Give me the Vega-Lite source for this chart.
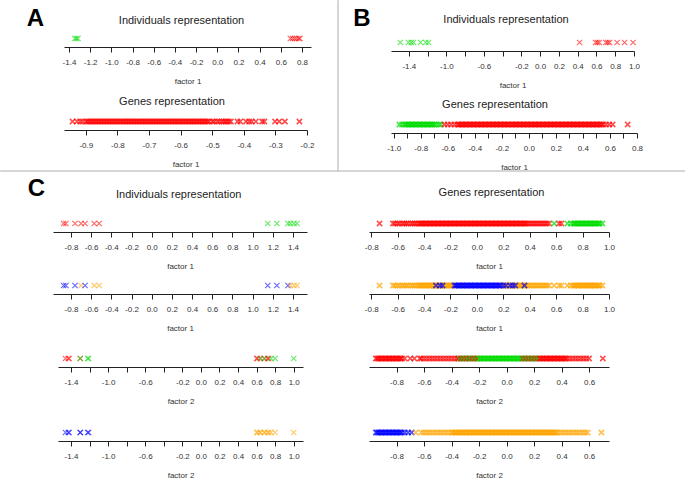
{
"$schema": "https://vega.github.io/schema/vega-lite/v6.json",
"padding": 0,
"background": "white",
"config": {
  "view": {"stroke": null},
  "font": "Liberation Sans",
  "concat": {"spacing": 0},
  "point": {"shape": "M-1,-1L1,1M-1,1L1,-1", "filled": false, "size": 28, "strokeWidth": 1.1, "opacity": 0.6},
  "axis": {"domainColor": "#222", "tickColor": "#222", "labelColor": "#333", "titleColor": "#333", "labelFontSize": 8, "titleFontSize": 8, "titleFontWeight": "normal", "labelFont": "Liberation Sans", "titleFont": "Liberation Sans", "tickSize": 5, "labelPadding": 6, "titlePadding": 11, "grid": false, "labelFlush": false, "labelOverlap": false, "domainWidth": 1, "tickWidth": 1},
  "title": {"fontSize": 11, "fontWeight": "normal", "color": "#222", "font": "Liberation Sans", "anchor": "middle", "frame": "group", "baseline": "alphabetic"}
},
"datasets": {
"AI": [{"x":-1.345,"c":"g"},{"x":-1.33,"c":"g"},{"x":-1.315,"c":"g"},{"x":0.69,"c":"r"},{"x":0.71,"c":"r"},{"x":0.73,"c":"r"},{"x":0.75,"c":"r"},{"x":0.77,"c":"r"},{"x":0.78,"c":"r"}],
"AG": [{"x":-0.942,"c":"r"},{"x":-0.928,"c":"r"},{"x":-0.918,"c":"r"},{"x":-0.91,"c":"r"},
{"x":-0.9,"c":"r"},{"x":-0.895,"c":"r"},{"x":-0.89,"c":"r"},{"x":-0.885,"c":"r"},{"x":-0.88,"c":"r"},{"x":-0.875,"c":"r"},{"x":-0.87,"c":"r"},{"x":-0.865,"c":"r"},{"x":-0.86,"c":"r"},{"x":-0.855,"c":"r"},{"x":-0.85,"c":"r"},{"x":-0.845,"c":"r"},{"x":-0.84,"c":"r"},{"x":-0.835,"c":"r"},{"x":-0.83,"c":"r"},{"x":-0.825,"c":"r"},{"x":-0.82,"c":"r"},{"x":-0.815,"c":"r"},{"x":-0.81,"c":"r"},{"x":-0.805,"c":"r"},{"x":-0.8,"c":"r"},{"x":-0.795,"c":"r"},{"x":-0.79,"c":"r"},{"x":-0.785,"c":"r"},{"x":-0.78,"c":"r"},{"x":-0.775,"c":"r"},{"x":-0.77,"c":"r"},{"x":-0.765,"c":"r"},{"x":-0.76,"c":"r"},{"x":-0.755,"c":"r"},{"x":-0.75,"c":"r"},{"x":-0.745,"c":"r"},{"x":-0.74,"c":"r"},{"x":-0.735,"c":"r"},{"x":-0.73,"c":"r"},{"x":-0.725,"c":"r"},{"x":-0.72,"c":"r"},{"x":-0.715,"c":"r"},{"x":-0.71,"c":"r"},{"x":-0.705,"c":"r"},{"x":-0.7,"c":"r"},{"x":-0.695,"c":"r"},{"x":-0.69,"c":"r"},{"x":-0.685,"c":"r"},{"x":-0.68,"c":"r"},{"x":-0.675,"c":"r"},{"x":-0.67,"c":"r"},{"x":-0.665,"c":"r"},{"x":-0.66,"c":"r"},{"x":-0.655,"c":"r"},{"x":-0.65,"c":"r"},{"x":-0.645,"c":"r"},{"x":-0.64,"c":"r"},{"x":-0.635,"c":"r"},{"x":-0.63,"c":"r"},{"x":-0.625,"c":"r"},{"x":-0.62,"c":"r"},{"x":-0.615,"c":"r"},{"x":-0.61,"c":"r"},{"x":-0.605,"c":"r"},{"x":-0.6,"c":"r"},{"x":-0.595,"c":"r"},{"x":-0.59,"c":"r"},{"x":-0.585,"c":"r"},{"x":-0.58,"c":"r"},{"x":-0.575,"c":"r"},{"x":-0.57,"c":"r"},{"x":-0.565,"c":"r"},{"x":-0.56,"c":"r"},{"x":-0.555,"c":"r"},{"x":-0.55,"c":"r"},{"x":-0.545,"c":"r"},{"x":-0.54,"c":"r"},{"x":-0.535,"c":"r"},{"x":-0.53,"c":"r"},{"x":-0.525,"c":"r"},{"x":-0.52,"c":"r"},{"x":-0.515,"c":"r"},{"x":-0.51,"c":"r"},
{"x":-0.5,"c":"r"},{"x":-0.494,"c":"r"},{"x":-0.485,"c":"r"},{"x":-0.478,"c":"r"},{"x":-0.47,"c":"r"},{"x":-0.464,"c":"r"},{"x":-0.458,"c":"r"},{"x":-0.453,"c":"r"},{"x":-0.447,"c":"r"},{"x":-0.441,"c":"r"},{"x":-0.42,"c":"r"},{"x":-0.411,"c":"r"},{"x":-0.393,"c":"r"},{"x":-0.383,"c":"r"},{"x":-0.375,"c":"r"},{"x":-0.362,"c":"r"},{"x":-0.342,"c":"r"},{"x":-0.335,"c":"r"},{"x":-0.301,"c":"r"},{"x":-0.288,"c":"r"},{"x":-0.27,"c":"r"},{"x":-0.224,"c":"r"}],
"BI": [{"x":-1.49,"c":"g"},{"x":-1.405,"c":"g"},{"x":-1.375,"c":"g"},{"x":-1.35,"c":"g"},{"x":-1.275,"c":"g"},{"x":-1.22,"c":"g"},{"x":-1.19,"c":"g"},{"x":0.42,"c":"r"},{"x":0.59,"c":"r"},{"x":0.61,"c":"r"},{"x":0.63,"c":"r"},{"x":0.7,"c":"r"},{"x":0.72,"c":"r"},{"x":0.74,"c":"r"},{"x":0.82,"c":"r"},{"x":0.9,"c":"r"},{"x":0.99,"c":"r"}],
"BG": [{"x":-0.958,"c":"g"},{"x":-0.938,"c":"g"},
{"x":-0.92,"c":"g"},{"x":-0.91,"c":"g"},{"x":-0.9,"c":"g"},{"x":-0.89,"c":"g"},{"x":-0.88,"c":"g"},{"x":-0.87,"c":"g"},{"x":-0.86,"c":"g"},{"x":-0.85,"c":"g"},{"x":-0.84,"c":"g"},{"x":-0.83,"c":"g"},{"x":-0.82,"c":"g"},{"x":-0.81,"c":"g"},{"x":-0.8,"c":"g"},{"x":-0.79,"c":"g"},{"x":-0.78,"c":"g"},{"x":-0.77,"c":"g"},{"x":-0.76,"c":"g"},{"x":-0.75,"c":"g"},{"x":-0.74,"c":"g"},{"x":-0.73,"c":"g"},{"x":-0.72,"c":"g"},{"x":-0.71,"c":"g"},
{"x":-0.7,"c":"g"},{"x":-0.685,"c":"g"},{"x":-0.665,"c":"g"},{"x":-0.65,"c":"g"},
{"x":-0.625,"c":"r"},{"x":-0.6,"c":"r"},{"x":-0.576,"c":"r"},{"x":-0.551,"c":"r"},
{"x":-0.53,"c":"r"},{"x":-0.52,"c":"r"},{"x":-0.51,"c":"r"},{"x":-0.5,"c":"r"},{"x":-0.49,"c":"r"},{"x":-0.48,"c":"r"},{"x":-0.47,"c":"r"},{"x":-0.46,"c":"r"},{"x":-0.45,"c":"r"},{"x":-0.44,"c":"r"},{"x":-0.43,"c":"r"},{"x":-0.42,"c":"r"},{"x":-0.41,"c":"r"},{"x":-0.4,"c":"r"},{"x":-0.39,"c":"r"},{"x":-0.38,"c":"r"},{"x":-0.37,"c":"r"},{"x":-0.36,"c":"r"},{"x":-0.35,"c":"r"},{"x":-0.34,"c":"r"},{"x":-0.33,"c":"r"},{"x":-0.32,"c":"r"},{"x":-0.31,"c":"r"},{"x":-0.3,"c":"r"},{"x":-0.29,"c":"r"},{"x":-0.28,"c":"r"},{"x":-0.27,"c":"r"},{"x":-0.26,"c":"r"},{"x":-0.25,"c":"r"},{"x":-0.24,"c":"r"},{"x":-0.23,"c":"r"},{"x":-0.22,"c":"r"},{"x":-0.21,"c":"r"},{"x":-0.2,"c":"r"},{"x":-0.19,"c":"r"},{"x":-0.18,"c":"r"},{"x":-0.17,"c":"r"},{"x":-0.16,"c":"r"},{"x":-0.15,"c":"r"},{"x":-0.14,"c":"r"},{"x":-0.13,"c":"r"},{"x":-0.12,"c":"r"},{"x":-0.11,"c":"r"},{"x":-0.1,"c":"r"},{"x":-0.09,"c":"r"},{"x":-0.08,"c":"r"},{"x":-0.07,"c":"r"},{"x":-0.06,"c":"r"},{"x":-0.05,"c":"r"},{"x":-0.04,"c":"r"},{"x":-0.03,"c":"r"},{"x":-0.02,"c":"r"},{"x":-0.01,"c":"r"},{"x":0,"c":"r"},{"x":0.01,"c":"r"},{"x":0.02,"c":"r"},{"x":0.03,"c":"r"},{"x":0.04,"c":"r"},{"x":0.05,"c":"r"},{"x":0.06,"c":"r"},{"x":0.07,"c":"r"},{"x":0.08,"c":"r"},{"x":0.09,"c":"r"},{"x":0.1,"c":"r"},{"x":0.11,"c":"r"},{"x":0.12,"c":"r"},{"x":0.13,"c":"r"},{"x":0.14,"c":"r"},{"x":0.15,"c":"r"},{"x":0.16,"c":"r"},{"x":0.17,"c":"r"},{"x":0.18,"c":"r"},{"x":0.19,"c":"r"},{"x":0.2,"c":"r"},{"x":0.21,"c":"r"},{"x":0.22,"c":"r"},{"x":0.23,"c":"r"},{"x":0.24,"c":"r"},{"x":0.25,"c":"r"},{"x":0.26,"c":"r"},{"x":0.27,"c":"r"},{"x":0.28,"c":"r"},{"x":0.29,"c":"r"},{"x":0.3,"c":"r"},{"x":0.31,"c":"r"},{"x":0.32,"c":"r"},{"x":0.33,"c":"r"},{"x":0.34,"c":"r"},{"x":0.35,"c":"r"},{"x":0.36,"c":"r"},{"x":0.37,"c":"r"},{"x":0.38,"c":"r"},{"x":0.39,"c":"r"},{"x":0.4,"c":"r"},{"x":0.41,"c":"r"},{"x":0.42,"c":"r"},{"x":0.43,"c":"r"},{"x":0.44,"c":"r"},{"x":0.45,"c":"r"},{"x":0.46,"c":"r"},{"x":0.47,"c":"r"},{"x":0.48,"c":"r"},{"x":0.49,"c":"r"},{"x":0.5,"c":"r"},{"x":0.51,"c":"r"},{"x":0.52,"c":"r"},{"x":0.53,"c":"r"},{"x":0.54,"c":"r"},{"x":0.55,"c":"r"},
{"x":0.571,"c":"r"},{"x":0.595,"c":"r"},{"x":0.62,"c":"r"},{"x":0.731,"c":"r"}],
"C1L": [{"x":-0.873,"c":"r"},{"x":-0.85,"c":"r"},{"x":-0.76,"c":"r"},{"x":-0.7,"c":"r"},{"x":-0.66,"c":"r"},{"x":-0.57,"c":"r"},{"x":-0.52,"c":"r"},{"x":1.15,"c":"g"},{"x":1.24,"c":"g"},{"x":1.35,"c":"g"},{"x":1.375,"c":"g"},{"x":1.41,"c":"g"},{"x":1.44,"c":"g"}],
"C2L": [{"x":-0.873,"c":"b"},{"x":-0.85,"c":"b"},{"x":-0.76,"c":"b"},{"x":-0.7,"c":"o"},{"x":-0.66,"c":"b"},{"x":-0.57,"c":"o"},{"x":-0.52,"c":"o"},{"x":1.15,"c":"b"},{"x":1.24,"c":"b"},{"x":1.35,"c":"b"},{"x":1.375,"c":"o"},{"x":1.41,"c":"o"},{"x":1.44,"c":"o"}],
"C3L": [{"x":-1.46,"c":"r"},{"x":-1.43,"c":"r"},{"x":-1.42,"c":"r"},{"x":-1.3,"c":"r"},{"x":-1.3,"c":"g"},{"x":-1.22,"c":"g"},{"x":-1.21,"c":"g"},{"x":0.6,"c":"r"},{"x":0.61,"c":"r"},{"x":0.64,"c":"r"},{"x":0.64,"c":"g"},{"x":0.68,"c":"r"},{"x":0.69,"c":"g"},{"x":0.72,"c":"r"},{"x":0.73,"c":"r"},{"x":0.755,"c":"g"},{"x":0.8,"c":"g"},{"x":1.0,"c":"g"}],
"C4L": [{"x":-1.46,"c":"b"},{"x":-1.43,"c":"b"},{"x":-1.42,"c":"b"},{"x":-1.3,"c":"b"},{"x":-1.3,"c":"b"},{"x":-1.22,"c":"b"},{"x":-1.21,"c":"b"},{"x":0.6,"c":"o"},{"x":0.61,"c":"o"},{"x":0.64,"c":"o"},{"x":0.64,"c":"o"},{"x":0.68,"c":"o"},{"x":0.69,"c":"o"},{"x":0.72,"c":"o"},{"x":0.73,"c":"o"},{"x":0.755,"c":"o"},{"x":0.8,"c":"o"},{"x":1.0,"c":"o"}],
"C1R": [{"x":-0.737,"c":"r"},{"x":-0.636,"c":"r"},{"x":-0.62,"c":"r"},{"x":-0.6,"c":"r"},{"x":-0.585,"c":"r"},{"x":-0.565,"c":"r"},{"x":-0.55,"c":"r"},{"x":-0.535,"c":"r"},{"x":-0.52,"c":"r"},{"x":-0.5,"c":"r"},{"x":-0.485,"c":"r"},{"x":-0.47,"c":"r"},{"x":-0.455,"c":"r"},{"x":-0.44,"c":"r"},
{"x":-0.43,"c":"r"},{"x":-0.42,"c":"r"},{"x":-0.41,"c":"r"},{"x":-0.4,"c":"r"},{"x":-0.39,"c":"r"},{"x":-0.38,"c":"r"},{"x":-0.37,"c":"r"},{"x":-0.36,"c":"r"},{"x":-0.35,"c":"r"},{"x":-0.34,"c":"r"},{"x":-0.33,"c":"r"},{"x":-0.32,"c":"r"},{"x":-0.31,"c":"r"},{"x":-0.3,"c":"r"},{"x":-0.29,"c":"r"},{"x":-0.28,"c":"r"},{"x":-0.27,"c":"r"},{"x":-0.26,"c":"r"},{"x":-0.25,"c":"r"},{"x":-0.24,"c":"r"},{"x":-0.23,"c":"r"},{"x":-0.22,"c":"r"},{"x":-0.21,"c":"r"},{"x":-0.2,"c":"r"},{"x":-0.19,"c":"r"},{"x":-0.18,"c":"r"},{"x":-0.17,"c":"r"},{"x":-0.16,"c":"r"},{"x":-0.15,"c":"r"},{"x":-0.14,"c":"r"},{"x":-0.13,"c":"r"},{"x":-0.12,"c":"r"},{"x":-0.11,"c":"r"},{"x":-0.1,"c":"r"},{"x":-0.09,"c":"r"},{"x":-0.08,"c":"r"},{"x":-0.07,"c":"r"},{"x":-0.06,"c":"r"},{"x":-0.05,"c":"r"},{"x":-0.04,"c":"r"},{"x":-0.03,"c":"r"},{"x":-0.02,"c":"r"},{"x":-0.01,"c":"r"},{"x":0,"c":"r"},{"x":0.01,"c":"r"},{"x":0.02,"c":"r"},{"x":0.03,"c":"r"},{"x":0.04,"c":"r"},{"x":0.05,"c":"r"},{"x":0.06,"c":"r"},{"x":0.07,"c":"r"},{"x":0.08,"c":"r"},{"x":0.09,"c":"r"},{"x":0.1,"c":"r"},{"x":0.11,"c":"r"},{"x":0.12,"c":"r"},{"x":0.13,"c":"r"},{"x":0.14,"c":"r"},{"x":0.15,"c":"r"},{"x":0.16,"c":"r"},{"x":0.17,"c":"r"},{"x":0.18,"c":"r"},{"x":0.19,"c":"r"},{"x":0.2,"c":"r"},{"x":0.21,"c":"r"},{"x":0.22,"c":"r"},{"x":0.23,"c":"r"},{"x":0.24,"c":"r"},{"x":0.25,"c":"r"},{"x":0.26,"c":"r"},{"x":0.27,"c":"r"},{"x":0.28,"c":"r"},{"x":0.29,"c":"r"},{"x":0.3,"c":"r"},{"x":0.31,"c":"r"},{"x":0.32,"c":"r"},{"x":0.33,"c":"r"},{"x":0.34,"c":"r"},{"x":0.35,"c":"r"},{"x":0.36,"c":"r"},{"x":0.37,"c":"r"},{"x":0.38,"c":"r"},
{"x":0.395,"c":"r"},{"x":0.41,"c":"r"},{"x":0.425,"c":"r"},{"x":0.44,"c":"r"},{"x":0.455,"c":"r"},{"x":0.47,"c":"r"},{"x":0.485,"c":"r"},{"x":0.5,"c":"r"},{"x":0.515,"c":"r"},{"x":0.53,"c":"r"},{"x":0.547,"c":"r"},
{"x":0.585,"c":"g"},{"x":0.622,"c":"r"},{"x":0.64,"c":"r"},{"x":0.685,"c":"g"},{"x":0.711,"c":"g"},
{"x":0.73,"c":"g"},{"x":0.74,"c":"g"},{"x":0.75,"c":"g"},{"x":0.76,"c":"g"},{"x":0.77,"c":"g"},{"x":0.78,"c":"g"},{"x":0.79,"c":"g"},{"x":0.8,"c":"g"},{"x":0.81,"c":"g"},{"x":0.82,"c":"g"},{"x":0.83,"c":"g"},{"x":0.84,"c":"g"},{"x":0.85,"c":"g"},{"x":0.86,"c":"g"},{"x":0.87,"c":"g"},{"x":0.88,"c":"g"},{"x":0.89,"c":"g"},{"x":0.9,"c":"g"},{"x":0.91,"c":"g"},{"x":0.92,"c":"g"},{"x":0.93,"c":"g"},{"x":0.95,"c":"g"}],
"C2R": [{"x":-0.737,"c":"o"},{"x":-0.636,"c":"o"},{"x":-0.62,"c":"o"},{"x":-0.6,"c":"o"},{"x":-0.585,"c":"o"},{"x":-0.565,"c":"o"},{"x":-0.55,"c":"o"},{"x":-0.535,"c":"o"},{"x":-0.52,"c":"o"},{"x":-0.5,"c":"o"},{"x":-0.485,"c":"o"},{"x":-0.47,"c":"o"},{"x":-0.455,"c":"o"},{"x":-0.44,"c":"o"},
{"x":-0.43,"c":"o"},{"x":-0.42,"c":"o"},{"x":-0.41,"c":"o"},{"x":-0.4,"c":"o"},{"x":-0.39,"c":"o"},{"x":-0.38,"c":"o"},{"x":-0.37,"c":"o"},{"x":-0.36,"c":"o"},{"x":-0.35,"c":"o"},{"x":-0.34,"c":"o"},{"x":-0.33,"c":"o"},{"x":-0.32,"c":"o"},{"x":-0.31,"c":"o"},{"x":-0.3,"c":"o"},{"x":-0.29,"c":"o"},{"x":-0.28,"c":"o"},{"x":-0.27,"c":"o"},{"x":-0.26,"c":"o"},{"x":-0.25,"c":"o"},{"x":-0.24,"c":"o"},{"x":-0.23,"c":"o"},{"x":-0.22,"c":"o"},{"x":-0.21,"c":"o"},{"x":-0.2,"c":"o"},{"x":-0.19,"c":"o"},{"x":-0.18,"c":"o"},
{"x":0.19,"c":"o"},{"x":0.2,"c":"o"},{"x":0.21,"c":"o"},{"x":0.22,"c":"o"},{"x":0.23,"c":"o"},{"x":0.24,"c":"o"},{"x":0.25,"c":"o"},{"x":0.26,"c":"o"},{"x":0.27,"c":"o"},{"x":0.28,"c":"o"},{"x":0.29,"c":"o"},{"x":0.3,"c":"o"},{"x":0.31,"c":"o"},{"x":0.32,"c":"o"},{"x":0.33,"c":"o"},{"x":0.34,"c":"o"},{"x":0.35,"c":"o"},{"x":0.36,"c":"o"},{"x":0.37,"c":"o"},{"x":0.38,"c":"o"},
{"x":0.395,"c":"o"},{"x":0.41,"c":"o"},{"x":0.425,"c":"o"},{"x":0.44,"c":"o"},{"x":0.455,"c":"o"},{"x":0.47,"c":"o"},{"x":0.485,"c":"o"},{"x":0.5,"c":"o"},{"x":0.515,"c":"o"},{"x":0.53,"c":"o"},{"x":0.547,"c":"o"},
{"x":0.585,"c":"o"},{"x":0.622,"c":"o"},{"x":0.64,"c":"o"},{"x":0.685,"c":"o"},{"x":0.711,"c":"o"},
{"x":0.73,"c":"o"},{"x":0.74,"c":"o"},{"x":0.75,"c":"o"},{"x":0.76,"c":"o"},{"x":0.77,"c":"o"},{"x":0.78,"c":"o"},{"x":0.79,"c":"o"},{"x":0.8,"c":"o"},{"x":0.81,"c":"o"},{"x":0.82,"c":"o"},{"x":0.83,"c":"o"},{"x":0.84,"c":"o"},{"x":0.85,"c":"o"},{"x":0.86,"c":"o"},{"x":0.87,"c":"o"},{"x":0.88,"c":"o"},{"x":0.89,"c":"o"},{"x":0.9,"c":"o"},{"x":0.91,"c":"o"},{"x":0.92,"c":"o"},{"x":0.93,"c":"o"},{"x":0.95,"c":"o"},
{"x":-0.31,"c":"b"},{"x":-0.28,"c":"b"},{"x":-0.26,"c":"b"},
{"x":-0.17,"c":"b"},{"x":-0.16,"c":"b"},{"x":-0.15,"c":"b"},{"x":-0.14,"c":"b"},{"x":-0.13,"c":"b"},{"x":-0.12,"c":"b"},{"x":-0.11,"c":"b"},{"x":-0.1,"c":"b"},{"x":-0.09,"c":"b"},{"x":-0.08,"c":"b"},{"x":-0.07,"c":"b"},{"x":-0.06,"c":"b"},{"x":-0.05,"c":"b"},{"x":-0.04,"c":"b"},{"x":-0.03,"c":"b"},{"x":-0.02,"c":"b"},{"x":-0.01,"c":"b"},{"x":0,"c":"b"},{"x":0.01,"c":"b"},{"x":0.02,"c":"b"},{"x":0.03,"c":"b"},{"x":0.04,"c":"b"},{"x":0.05,"c":"b"},{"x":0.06,"c":"b"},{"x":0.07,"c":"b"},{"x":0.08,"c":"b"},{"x":0.09,"c":"b"},{"x":0.1,"c":"b"},{"x":0.11,"c":"b"},{"x":0.12,"c":"b"},{"x":0.13,"c":"b"},{"x":0.14,"c":"b"},{"x":0.15,"c":"b"},{"x":0.16,"c":"b"},{"x":0.17,"c":"b"},{"x":0.18,"c":"b"},
{"x":0.2,"c":"b"},{"x":0.22,"c":"b"},{"x":0.25,"c":"b"},{"x":0.27,"c":"b"},{"x":0.29,"c":"b"},{"x":0.36,"c":"b"}],
"C3R": [{"x":-0.95,"c":"r"},{"x":-0.94,"c":"r"},{"x":-0.93,"c":"r"},{"x":-0.92,"c":"r"},{"x":-0.91,"c":"r"},{"x":-0.9,"c":"r"},{"x":-0.89,"c":"r"},{"x":-0.88,"c":"r"},{"x":-0.87,"c":"r"},{"x":-0.86,"c":"r"},{"x":-0.85,"c":"r"},{"x":-0.84,"c":"r"},{"x":-0.83,"c":"r"},{"x":-0.82,"c":"r"},{"x":-0.81,"c":"r"},{"x":-0.8,"c":"r"},{"x":-0.79,"c":"r"},{"x":-0.78,"c":"r"},{"x":-0.77,"c":"r"},{"x":-0.76,"c":"r"},
{"x":-0.74,"c":"r"},{"x":-0.7,"c":"r"},{"x":-0.67,"c":"r"},{"x":-0.63,"c":"r"},
{"x":-0.62,"c":"r"},{"x":-0.6,"c":"r"},{"x":-0.58,"c":"r"},{"x":-0.56,"c":"r"},{"x":-0.54,"c":"r"},{"x":-0.52,"c":"r"},{"x":-0.5,"c":"r"},{"x":-0.48,"c":"r"},{"x":-0.46,"c":"r"},{"x":-0.44,"c":"r"},{"x":-0.42,"c":"r"},{"x":-0.4,"c":"r"},{"x":-0.38,"c":"r"},{"x":-0.36,"c":"r"},
{"x":-0.35,"c":"r"},{"x":-0.34,"c":"g"},{"x":-0.33,"c":"r"},{"x":-0.32,"c":"g"},{"x":-0.31,"c":"r"},{"x":-0.3,"c":"g"},{"x":-0.29,"c":"r"},{"x":-0.28,"c":"g"},{"x":-0.27,"c":"r"},{"x":-0.26,"c":"g"},{"x":-0.25,"c":"r"},{"x":-0.24,"c":"g"},{"x":-0.23,"c":"r"},{"x":-0.22,"c":"g"},{"x":-0.21,"c":"r"},{"x":-0.2,"c":"g"},
{"x":-0.19,"c":"g"},{"x":-0.18,"c":"g"},{"x":-0.17,"c":"g"},{"x":-0.16,"c":"g"},{"x":-0.15,"c":"g"},{"x":-0.14,"c":"g"},{"x":-0.13,"c":"g"},{"x":-0.12,"c":"g"},{"x":-0.11,"c":"g"},{"x":-0.1,"c":"g"},{"x":-0.09,"c":"g"},{"x":-0.08,"c":"g"},{"x":-0.07,"c":"g"},{"x":-0.06,"c":"g"},{"x":-0.05,"c":"g"},{"x":-0.04,"c":"g"},{"x":-0.03,"c":"g"},{"x":-0.02,"c":"g"},{"x":-0.01,"c":"g"},{"x":0,"c":"g"},{"x":0.01,"c":"g"},{"x":0.02,"c":"g"},{"x":0.03,"c":"g"},{"x":0.04,"c":"g"},{"x":0.05,"c":"g"},{"x":0.06,"c":"g"},{"x":0.07,"c":"g"},{"x":0.08,"c":"g"},{"x":0.09,"c":"g"},{"x":0.1,"c":"g"},
{"x":0.11,"c":"g"},{"x":0.12,"c":"r"},{"x":0.13,"c":"g"},{"x":0.14,"c":"r"},{"x":0.15,"c":"g"},{"x":0.16,"c":"r"},{"x":0.17,"c":"g"},{"x":0.18,"c":"r"},{"x":0.19,"c":"g"},{"x":0.2,"c":"r"},{"x":0.21,"c":"g"},{"x":0.22,"c":"r"},{"x":0.23,"c":"g"},{"x":0.24,"c":"r"},
{"x":0.25,"c":"r"},{"x":0.26,"c":"r"},{"x":0.27,"c":"r"},{"x":0.28,"c":"r"},{"x":0.29,"c":"r"},{"x":0.3,"c":"r"},{"x":0.31,"c":"r"},{"x":0.32,"c":"r"},{"x":0.33,"c":"r"},{"x":0.34,"c":"r"},{"x":0.35,"c":"r"},{"x":0.36,"c":"r"},{"x":0.37,"c":"r"},{"x":0.38,"c":"r"},{"x":0.39,"c":"r"},{"x":0.4,"c":"r"},{"x":0.41,"c":"r"},{"x":0.42,"c":"r"},{"x":0.43,"c":"r"},{"x":0.44,"c":"r"},
{"x":0.46,"c":"r"},{"x":0.48,"c":"r"},{"x":0.5,"c":"r"},{"x":0.52,"c":"r"},{"x":0.54,"c":"r"},{"x":0.56,"c":"r"},{"x":0.58,"c":"r"},{"x":0.6,"c":"r"},{"x":0.7,"c":"r"}],
"C4R": [{"x":-0.95,"c":"b"},{"x":-0.94,"c":"b"},{"x":-0.93,"c":"b"},{"x":-0.92,"c":"b"},{"x":-0.91,"c":"b"},{"x":-0.9,"c":"b"},{"x":-0.89,"c":"b"},{"x":-0.88,"c":"b"},{"x":-0.87,"c":"b"},{"x":-0.86,"c":"b"},{"x":-0.85,"c":"b"},{"x":-0.84,"c":"b"},{"x":-0.83,"c":"b"},{"x":-0.82,"c":"b"},{"x":-0.81,"c":"b"},{"x":-0.8,"c":"b"},{"x":-0.79,"c":"b"},{"x":-0.78,"c":"b"},{"x":-0.77,"c":"b"},{"x":-0.76,"c":"b"},
{"x":-0.74,"c":"b"},{"x":-0.716,"c":"b"},{"x":-0.69,"c":"b"},{"x":-0.66,"c":"o"},
{"x":-0.62,"c":"o"},{"x":-0.6,"c":"o"},{"x":-0.58,"c":"o"},{"x":-0.56,"c":"o"},{"x":-0.54,"c":"o"},{"x":-0.52,"c":"o"},{"x":-0.5,"c":"o"},{"x":-0.48,"c":"o"},{"x":-0.46,"c":"o"},{"x":-0.44,"c":"o"},{"x":-0.42,"c":"o"},{"x":-0.4,"c":"o"},
{"x":-0.39,"c":"o"},{"x":-0.38,"c":"o"},{"x":-0.37,"c":"o"},{"x":-0.36,"c":"o"},{"x":-0.35,"c":"o"},{"x":-0.34,"c":"o"},{"x":-0.33,"c":"o"},{"x":-0.32,"c":"o"},{"x":-0.31,"c":"o"},{"x":-0.3,"c":"o"},{"x":-0.29,"c":"o"},{"x":-0.28,"c":"o"},{"x":-0.27,"c":"o"},{"x":-0.26,"c":"o"},{"x":-0.25,"c":"o"},{"x":-0.24,"c":"o"},{"x":-0.23,"c":"o"},{"x":-0.22,"c":"o"},{"x":-0.21,"c":"o"},{"x":-0.2,"c":"o"},{"x":-0.19,"c":"o"},{"x":-0.18,"c":"o"},{"x":-0.17,"c":"o"},{"x":-0.16,"c":"o"},{"x":-0.15,"c":"o"},{"x":-0.14,"c":"o"},{"x":-0.13,"c":"o"},{"x":-0.12,"c":"o"},{"x":-0.11,"c":"o"},{"x":-0.1,"c":"o"},{"x":-0.09,"c":"o"},{"x":-0.08,"c":"o"},{"x":-0.07,"c":"o"},{"x":-0.06,"c":"o"},{"x":-0.05,"c":"o"},{"x":-0.04,"c":"o"},{"x":-0.03,"c":"o"},{"x":-0.02,"c":"o"},{"x":-0.01,"c":"o"},{"x":0,"c":"o"},{"x":0.01,"c":"o"},{"x":0.02,"c":"o"},{"x":0.03,"c":"o"},{"x":0.04,"c":"o"},{"x":0.05,"c":"o"},{"x":0.06,"c":"o"},{"x":0.07,"c":"o"},{"x":0.08,"c":"o"},{"x":0.09,"c":"o"},{"x":0.1,"c":"o"},{"x":0.11,"c":"o"},{"x":0.12,"c":"o"},{"x":0.13,"c":"o"},{"x":0.14,"c":"o"},{"x":0.15,"c":"o"},{"x":0.16,"c":"o"},{"x":0.17,"c":"o"},{"x":0.18,"c":"o"},{"x":0.19,"c":"o"},{"x":0.2,"c":"o"},{"x":0.21,"c":"o"},{"x":0.22,"c":"o"},{"x":0.23,"c":"o"},{"x":0.24,"c":"o"},{"x":0.25,"c":"o"},{"x":0.26,"c":"o"},{"x":0.27,"c":"o"},{"x":0.28,"c":"o"},{"x":0.29,"c":"o"},{"x":0.3,"c":"o"},{"x":0.31,"c":"o"},{"x":0.32,"c":"o"},{"x":0.33,"c":"o"},{"x":0.34,"c":"o"},{"x":0.35,"c":"o"},{"x":0.36,"c":"o"},{"x":0.37,"c":"o"},
{"x":0.39,"c":"o"},{"x":0.41,"c":"o"},{"x":0.43,"c":"o"},{"x":0.45,"c":"o"},{"x":0.47,"c":"o"},{"x":0.49,"c":"o"},{"x":0.51,"c":"o"},{"x":0.53,"c":"o"},{"x":0.55,"c":"o"},{"x":0.57,"c":"o"},{"x":0.59,"c":"o"},{"x":0.69,"c":"o"}]
},
"vconcat": [
 {"hconcat": [
   {"width": 63, "height": 35, "data": {"values": [{"t": "A"}]}, "mark": {"type": "text", "fontSize": 24, "fontWeight": "bold", "font": "Liberation Sans", "color": "#000", "dx": 3}, "encoding": {"text": {"field": "t", "type": "nominal"}}},
   {"width": 274, "height": 1, "data": {"values": []}, "mark": "point"},
   {"width": 0.01, "height": 170, "data": {"values": []}, "mark": "point", "view": {"stroke": "#c8c8c8", "strokeWidth": 1.5}},
   {"width": 53, "height": 35, "data": {"values": [{"t": "B"}]}, "mark": {"type": "text", "fontSize": 24, "fontWeight": "bold", "font": "Liberation Sans", "color": "#000", "dx": -3.5}, "encoding": {"text": {"field": "t", "type": "nominal"}}}
 ], "spacing": 0, "bounds": "flush"},
 {"width": 1, "height": 29, "data": {"values": []}, "mark": "point"},
 {"hconcat": [
   {"width": 63, "height": 1, "data": {"values": []}, "mark": "point"},
   {"width": 247, "height": 17, "title": {"text": "Individuals representation", "offset": 4, "dx": -6},
    "data": {"name": "AI"}, "mark": "point",
    "encoding": {
      "x": {"field": "x", "type": "quantitative", "scale": {"domain": [-1.447, 0.885], "nice": false, "zero": false},
            "axis": {"title": "factor 1", "values": [-1.4,-1.2,-1,-0.8,-0.6,-0.4,-0.2,0,0.2,0.4,0.6,0.8], "labelExpr": "datum.value < 0 ? '-' + format(-datum.value, '.1f') : format(datum.value, '.1f')"}},
      "color": {"field": "c", "type": "nominal", "scale": {"domain": ["r","g","b","o"], "range": ["#ff0000","#00dd00","#0000ff","#ffa500"]}, "legend": null}}}
 ], "spacing": 0, "bounds": "flush"},
 {"width": 1, "height": 4, "data": {"values": []}, "mark": "point"},
 {"hconcat": [
   {"width": 390, "height": 1, "data": {"values": []}, "mark": "point"},
   {"width": 243, "height": 17, "title": {"text": "Individuals representation", "offset": 9, "dx": -6.5},
    "data": {"name": "BI"}, "mark": "point",
    "encoding": {
      "x": {"field": "x", "type": "quantitative", "scale": {"domain": [-1.59, 1.0], "nice": false, "zero": false},
            "axis": {"title": "factor 1", "values": [-1.4,-1.2,-1,-0.8,-0.6,-0.4,-0.2,0,0.2,0.4,0.6,0.8,1], "labelExpr": "(abs(datum.value + 1.2) < 0.01 || abs(datum.value + 0.8) < 0.01 || abs(datum.value + 0.4) < 0.01) ? '' : (datum.value < 0 ? '-' + format(-datum.value, '.1f') : format(datum.value, '.1f'))"}},
      "color": {"field": "c", "type": "nominal", "scale": {"domain": ["r","g","b","o"], "range": ["#ff0000","#00dd00","#0000ff","#ffa500"]}, "legend": null}}}
 ], "spacing": 0, "bounds": "flush"},
 {"width": 1, "height": 79, "data": {"values": []}, "mark": "point"},
 {"hconcat": [
   {"width": 63, "height": 1, "data": {"values": []}, "mark": "point"},
   {"width": 243, "height": 17, "title": {"text": "Genes representation", "offset": 6, "dx": -13.5},
    "data": {"name": "AG"}, "mark": {"type": "point", "strokeWidth": 1.5, "opacity": 0.7},
    "encoding": {
      "x": {"field": "x", "type": "quantitative", "scale": {"domain": [-0.969, -0.2], "nice": false, "zero": false},
            "axis": {"title": "factor 1", "values": [-0.9,-0.8,-0.7,-0.6,-0.5,-0.4,-0.3,-0.2], "labelExpr": "datum.value < 0 ? '-' + format(-datum.value, '.1f') : format(datum.value, '.1f')"}},
      "color": {"field": "c", "type": "nominal", "scale": {"domain": ["r","g","b","o"], "range": ["#ff0000","#00dd00","#0000ff","#ffa500"]}, "legend": null}}}
 ], "spacing": 0, "bounds": "flush"},
 {"width": 1, "height": 3, "data": {"values": []}, "mark": "point"},
 {"hconcat": [
   {"width": 390, "height": 1, "data": {"values": []}, "mark": "point"},
   {"width": 246, "height": 17, "title": {"text": "Genes representation", "offset": 6, "dx": -19},
    "data": {"name": "BG"}, "mark": {"type": "point", "strokeWidth": 1.5, "opacity": 0.7},
    "encoding": {
      "x": {"field": "x", "type": "quantitative", "scale": {"domain": [-1.02, 0.8], "nice": false, "zero": false},
            "axis": {"title": "factor 1", "values": [-1,-0.9,-0.8,-0.7,-0.6,-0.5,-0.4,-0.3,-0.2,-0.1,0,0.1,0.2,0.3,0.4,0.5,0.6,0.7,0.8], "labelExpr": "abs(round(datum.value * 10)) % 2 == 1 ? '' : (datum.value < 0 ? '-' + format(-datum.value, '.1f') : format(datum.value, '.1f'))"}},
      "color": {"field": "c", "type": "nominal", "scale": {"domain": ["r","g","b","o"], "range": ["#ff0000","#00dd00","#0000ff","#ffa500"]}, "legend": null}}}
 ], "spacing": 0, "bounds": "flush"},
 {"width": 1, "height": 55, "data": {"values": []}, "mark": "point"},
 {"width": 685, "height": 0.01, "data": {"values": []}, "mark": "point", "view": {"stroke": "#c8c8c8", "strokeWidth": 1.5}},
 {"width": 52, "height": 33, "data": {"values": [{"t": "C"}]}, "mark": {"type": "text", "fontSize": 24, "fontWeight": "bold", "font": "Liberation Sans", "color": "#000", "dx": 9.5}, "encoding": {"text": {"field": "t", "type": "nominal"}}},
 {"width": 1, "height": 10, "data": {"values": []}, "mark": "point"},
 {"hconcat": [
   {"width": 52, "height": 1, "data": {"values": []}, "mark": "point"},
   {"width": 254, "height": 17, "title": {"text": "Individuals representation", "offset": 15.5, "dx": -1.3},
    "data": {"name": "C1L"}, "mark": "point",
    "encoding": {
      "x": {"field": "x", "type": "quantitative", "scale": {"domain": [-0.978, 1.539], "nice": false, "zero": false},
            "axis": {"title": "factor 1", "values": [-0.8,-0.6,-0.4,-0.2,0,0.2,0.4,0.6,0.8,1,1.2,1.4], "labelExpr": "datum.value < 0 ? '-' + format(-datum.value, '.1f') : format(datum.value, '.1f')"}},
      "color": {"field": "c", "type": "nominal", "scale": {"domain": ["r","g","b","o"], "range": ["#ff0000","#00dd00","#0000ff","#ffa500"]}, "legend": null}}},
   {"width": 62, "height": 1, "data": {"values": []}, "mark": "point"},
   {"width": 240, "height": 17, "title": {"text": "Genes representation", "offset": 17, "dx": 2.5},
    "data": {"name": "C1R"}, "mark": {"type": "point", "strokeWidth": 1.5, "opacity": 0.7},
    "encoding": {
      "x": {"field": "x", "type": "quantitative", "scale": {"domain": [-0.817, 1.0], "nice": false, "zero": false},
            "axis": {"title": "factor 1", "values": [-0.8,-0.6,-0.4,-0.2,0,0.2,0.4,0.6,0.8,1], "labelExpr": "datum.value < 0 ? '-' + format(-datum.value, '.1f') : format(datum.value, '.1f')"}},
      "color": {"field": "c", "type": "nominal", "scale": {"domain": ["r","g","b","o"], "range": ["#ff0000","#00dd00","#0000ff","#ffa500"]}, "legend": null}}}
 ], "spacing": 0, "bounds": "flush"},
 {"width": 1, "height": 62, "data": {"values": []}, "mark": "point"},
 {"hconcat": [
   {"width": 52, "height": 1, "data": {"values": []}, "mark": "point"},
   {"width": 254, "height": 17,
    "data": {"name": "C2L"}, "mark": "point",
    "encoding": {
      "x": {"field": "x", "type": "quantitative", "scale": {"domain": [-0.978, 1.539], "nice": false, "zero": false},
            "axis": {"title": "factor 1", "values": [-0.8,-0.6,-0.4,-0.2,0,0.2,0.4,0.6,0.8,1,1.2,1.4], "labelExpr": "datum.value < 0 ? '-' + format(-datum.value, '.1f') : format(datum.value, '.1f')"}},
      "color": {"field": "c", "type": "nominal", "scale": {"domain": ["r","g","b","o"], "range": ["#ff0000","#00dd00","#0000ff","#ffa500"]}, "legend": null}}},
   {"width": 62, "height": 1, "data": {"values": []}, "mark": "point"},
   {"width": 240, "height": 17,
    "data": {"name": "C2R"}, "mark": {"type": "point", "strokeWidth": 1.5, "opacity": 0.7},
    "encoding": {
      "x": {"field": "x", "type": "quantitative", "scale": {"domain": [-0.817, 1.0], "nice": false, "zero": false},
            "axis": {"title": "factor 1", "values": [-0.8,-0.6,-0.4,-0.2,0,0.2,0.4,0.6,0.8,1], "labelExpr": "datum.value < 0 ? '-' + format(-datum.value, '.1f') : format(datum.value, '.1f')"}},
      "color": {"field": "c", "type": "nominal", "scale": {"domain": ["r","g","b","o"], "range": ["#ff0000","#00dd00","#0000ff","#ffa500"]}, "legend": null}}}
 ], "spacing": 0, "bounds": "flush"},
 {"width": 1, "height": 73, "data": {"values": []}, "mark": "point"},
 {"hconcat": [
   {"width": 57, "height": 1, "data": {"values": []}, "mark": "point"},
   {"width": 245, "height": 17,
    "data": {"name": "C3L"}, "mark": "point",
    "encoding": {
      "x": {"field": "x", "type": "quantitative", "scale": {"domain": [-1.54, 1.1], "nice": false, "zero": false},
            "axis": {"title": "factor 2", "values": [-1.4,-1.2,-1,-0.8,-0.6,-0.4,-0.2,0,0.2,0.4,0.6,0.8,1], "labelExpr": "(abs(datum.value + 1.2) < 0.01 || abs(datum.value + 0.8) < 0.01 || abs(datum.value + 0.4) < 0.01) ? '' : (datum.value < 0 ? '-' + format(-datum.value, '.1f') : format(datum.value, '.1f'))"}},
      "color": {"field": "c", "type": "nominal", "scale": {"domain": ["r","g","b","o"], "range": ["#ff0000","#00dd00","#0000ff","#ffa500"]}, "legend": null}}},
   {"width": 66, "height": 1, "data": {"values": []}, "mark": "point"},
   {"width": 240, "height": 17,
    "data": {"name": "C3R"}, "mark": {"type": "point", "strokeWidth": 1.5, "opacity": 0.7},
    "encoding": {
      "x": {"field": "x", "type": "quantitative", "scale": {"domain": [-1.0, 0.745], "nice": false, "zero": false},
            "axis": {"title": "factor 2", "values": [-0.8,-0.6,-0.4,-0.2,0,0.2,0.4,0.6], "labelExpr": "datum.value < 0 ? '-' + format(-datum.value, '.1f') : format(datum.value, '.1f')"}},
      "color": {"field": "c", "type": "nominal", "scale": {"domain": ["r","g","b","o"], "range": ["#ff0000","#00dd00","#0000ff","#ffa500"]}, "legend": null}}}
 ], "spacing": 0, "bounds": "flush"},
 {"width": 1, "height": 74, "data": {"values": []}, "mark": "point"},
 {"hconcat": [
   {"width": 57, "height": 1, "data": {"values": []}, "mark": "point"},
   {"width": 245, "height": 17,
    "data": {"name": "C4L"}, "mark": "point",
    "encoding": {
      "x": {"field": "x", "type": "quantitative", "scale": {"domain": [-1.54, 1.1], "nice": false, "zero": false},
            "axis": {"title": "factor 2", "values": [-1.4,-1.2,-1,-0.8,-0.6,-0.4,-0.2,0,0.2,0.4,0.6,0.8,1], "labelExpr": "(abs(datum.value + 1.2) < 0.01 || abs(datum.value + 0.8) < 0.01 || abs(datum.value + 0.4) < 0.01) ? '' : (datum.value < 0 ? '-' + format(-datum.value, '.1f') : format(datum.value, '.1f'))"}},
      "color": {"field": "c", "type": "nominal", "scale": {"domain": ["r","g","b","o"], "range": ["#ff0000","#00dd00","#0000ff","#ffa500"]}, "legend": null}}},
   {"width": 66, "height": 1, "data": {"values": []}, "mark": "point"},
   {"width": 240, "height": 17,
    "data": {"name": "C4R"}, "mark": {"type": "point", "strokeWidth": 1.5, "opacity": 0.7},
    "encoding": {
      "x": {"field": "x", "type": "quantitative", "scale": {"domain": [-1.0, 0.745], "nice": false, "zero": false},
            "axis": {"title": "factor 2", "values": [-0.8,-0.6,-0.4,-0.2,0,0.2,0.4,0.6], "labelExpr": "datum.value < 0 ? '-' + format(-datum.value, '.1f') : format(datum.value, '.1f')"}},
      "color": {"field": "c", "type": "nominal", "scale": {"domain": ["r","g","b","o"], "range": ["#ff0000","#00dd00","#0000ff","#ffa500"]}, "legend": null}}}
 ], "spacing": 0, "bounds": "flush"}
],
"spacing": 0,
"bounds": "flush"
}
